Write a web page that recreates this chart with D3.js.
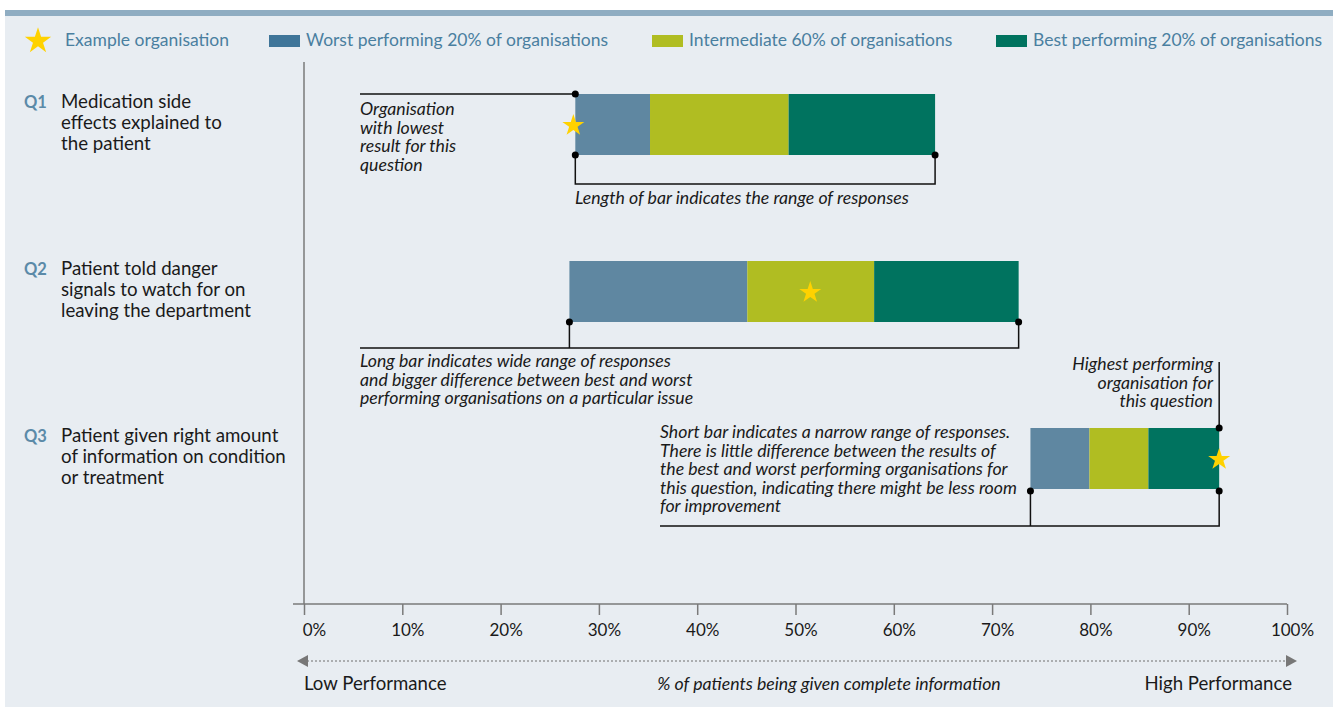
<!DOCTYPE html>
<html>
<head>
<meta charset="utf-8">
<script src="https://cdn.jsdelivr.net/npm/d3@7"></script>
<style>
  body { margin: 0; background: #fff; }
  svg { display: block; font-family: Lato, "Open Sans", sans-serif; }
  .qtext { font-size: 18.7px; fill: #1a1a1a; }
  .qid { font-size: 16.5px; fill: #5b8aa8; font-weight: bold; }
  .legend text { font-size: 17.5px; fill: #4a7fa0; }
  .note { font-size: 17.7px; font-style: italic; fill: #1a1a1a; }
  .foot { font-size: 18.6px; fill: #1a1a1a; }
</style>
</head>
<body>
<svg id="chart" width="1333" height="709"></svg>
<script>
// data
const questions = ['Q1', 'Q2', 'Q3'];
const questionText = [
  ['Medication side', 'effects explained to', 'the patient'],
  ['Patient told danger', 'signals to watch for on', 'leaving the department'],
  ['Patient given right amount', 'of information on condition', 'or treatment']
];
const lowest = [27.6, 27.0, 73.9];
const worstTop = [35.2, 45.1, 79.9];   // end of worst 20%
const bestStart = [49.3, 58.0, 85.9];  // start of best 20%
const highest = [64.2, 72.7, 93.1];
const exampleOrg = [27.4, 51.5, 93.1];
const tickValues = [0, 10, 20, 30, 40, 50, 60, 70, 80, 90, 100];

const legendItems = ['Worst performing 20% of organisations', 'Intermediate 60% of organisations', 'Best performing 20% of organisations'];
const barColors = ['#5f87a1', '#b0bd22', '#00735f'];
const swatchColors = ['#3f7599', '#b0bd22', '#00735f'];
const starColor = '#ffd200';

let svg = d3.select('#chart');

// background panel + top strip
svg.append('rect').attr('x', 5).attr('y', 16).attr('width', 1328).attr('height', 691).attr('fill', '#e8edf2');
svg.append('rect').attr('x', 5).attr('y', 10).attr('width', 1328).attr('height', 6).attr('fill', '#8fadc2');

const x = d3.scaleLinear().domain([0, 100]).range([304, 1287]);
const y = d3.scalePoint().domain(questions).range([124.5, 458.5]);
const barH = 61;

const star = d3.symbol().type(d3.symbolStar);

// legend
let legend = svg.append('g').attr('class', 'legend');
legend.append('path').attr('d', star.size(215)()).attr('fill', starColor)
  .attr('transform', 'translate(38,41)');
legend.append('text').attr('x', 65).attr('y', 46).text('Example organisation');
const legendX = [269, 652, 996];
legendItems.forEach(function(t, i) {
  legend.append('rect').attr('x', legendX[i]).attr('y', 35).attr('width', 31).attr('height', 12).attr('fill', swatchColors[i]);
  legend.append('text').attr('x', legendX[i] + 37).attr('y', 46).text(t);
});

// axes
svg.append('line').attr('x1', 304).attr('x2', 304).attr('y1', 62).attr('y2', 604)
  .attr('stroke', '#7a7a7a').attr('stroke-width', 1.5);
svg.append('line').attr('x1', 293).attr('x2', 1287).attr('y1', 604).attr('y2', 604)
  .attr('stroke', '#7a7a7a').attr('stroke-width', 1.5);

let xAxis = svg.append('g').attr('transform', 'translate(0,604)')
  .call(d3.axisBottom(x).tickValues(tickValues).tickFormat(d => d + '%').tickSize(11).tickPadding(9));
xAxis.select('.domain').remove();
xAxis.selectAll('.tick line').attr('stroke', '#7a7a7a').attr('stroke-width', 1.5);
xAxis.selectAll('.tick text').attr('font-family', 'Lato, sans-serif').attr('font-size', 17).attr('fill', '#1a1a1a')
  .attr('dx', d => d == 0 ? 10 : 5);

// question labels
questions.forEach(function(q, i) {
  let top = y(q) - barH / 2;
  svg.append('text').attr('class', 'qid').attr('x', 24).attr('y', top + 14).text(q);
  questionText[i].forEach(function(line, j) {
    svg.append('text').attr('class', 'qtext').attr('x', 61).attr('y', top + 14 + j * 21).text(line);
  });
});

// bars
let bars = svg.append('g');
questions.forEach(function(q, i) {
  let segs = [[lowest[i], worstTop[i]], [worstTop[i], bestStart[i]], [bestStart[i], highest[i]]];
  segs.forEach(function(s, k) {
    bars.append('rect')
      .attr('x', x(s[0])).attr('y', y(q) - barH / 2)
      .attr('width', x(s[1]) - x(s[0])).attr('height', barH)
      .attr('fill', barColors[k]);
  });
  bars.append('path').attr('d', star.size(150)()).attr('fill', starColor)
    .attr('transform', `translate(${x(exampleOrg[i])},${y(q) + 1})`);
});

// annotations
let ann = svg.append('g').attr('stroke', '#111').attr('stroke-width', 1.5).attr('fill', 'none');
function dot(cx, cy) { svg.append('circle').attr('cx', cx).attr('cy', cy).attr('r', 3.5).attr('fill', '#000'); }
function path(pts) { ann.append('path').attr('d', d3.line()(pts)); }
function note(xp, yp, lines, anchor, lh) {
  lines.forEach(function(l, j) {
    svg.append('text').attr('class', 'note').attr('x', xp).attr('y', yp + j * (lh || 18.6))
      .attr('text-anchor', anchor || 'start').text(l);
  });
}

// Q1
let t1 = y('Q1') - barH / 2, b1 = y('Q1') + barH / 2;
path([[360, t1], [x(lowest[0]), t1]]);
dot(x(lowest[0]), t1);
path([[x(lowest[0]), b1], [x(lowest[0]), 184], [x(highest[0]), 184], [x(highest[0]), b1]]);
dot(x(lowest[0]), b1); dot(x(highest[0]), b1);
note(360, 115, ['Organisation', 'with lowest', 'result for this', 'question']);
note(575, 204, ['Length of bar indicates the range of responses']);

// Q2
let b2 = y('Q2') + barH / 2;
path([[360, 348], [x(highest[1]), 348], [x(highest[1]), b2]]);
path([[x(lowest[1]), 348], [x(lowest[1]), b2]]);
dot(x(lowest[1]), b2); dot(x(highest[1]), b2);
note(360, 367, ['Long bar indicates wide range of responses', 'and bigger difference between best and worst', 'performing organisations on a particular issue']);

// Q3
let t3 = y('Q3') - barH / 2, b3 = y('Q3') + barH / 2 + 2;
path([[x(highest[2]), 362], [x(highest[2]), t3]]);
dot(x(highest[2]), t3);
path([[660, 526], [x(highest[2]), 526], [x(highest[2]), b3]]);
path([[x(lowest[2]), 526], [x(lowest[2]), b3]]);
dot(x(lowest[2]), b3); dot(x(highest[2]), b3);
note(1213, 370, ['Highest performing', 'organisation for', 'this question'], 'end');
note(660, 438, ['Short bar indicates a narrow range of responses.', 'There is little difference between the results of', 'the best and worst performing organisations for', 'this question, indicating there might be less room', 'for improvement']);

// performance arrow
svg.append('line').attr('x1', 307).attr('x2', 1287).attr('y1', 661).attr('y2', 661)
  .attr('stroke', '#6e6e6e').attr('stroke-width', 1).attr('stroke-dasharray', '2,2');
svg.append('path').attr('d', 'M297,661L308,655L308,667Z').attr('fill', '#777');
svg.append('path').attr('d', 'M1297,661L1286,655L1286,667Z').attr('fill', '#777');
svg.append('text').attr('class', 'foot').attr('x', 304).attr('y', 690).text('Low Performance');
svg.append('text').attr('class', 'foot').attr('x', 1292).attr('y', 690).attr('text-anchor', 'end').text('High Performance');
svg.append('text').attr('class', 'note').attr('x', 829).attr('y', 690).attr('text-anchor', 'middle')
  .text('% of patients being given complete information');
</script>
</body>
</html>
